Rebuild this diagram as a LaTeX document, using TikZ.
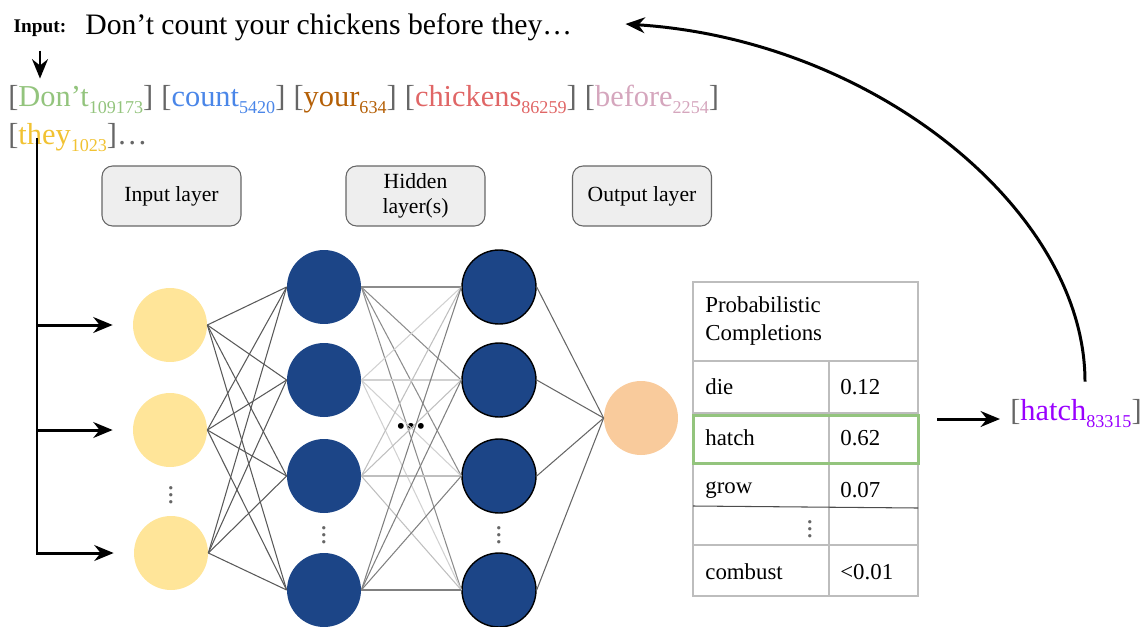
\documentclass[tikz,border=0pt]{standalone}
\usepackage{fontspec}
\setmainfont{Liberation Serif}
\usetikzlibrary{arrows.meta, positioning, calc}
\definecolor{tokgreen}{HTML}{93C47D}
\definecolor{tokblue}{HTML}{4A86E8}
\definecolor{tokbrown}{HTML}{B45F06}
\definecolor{tokred}{HTML}{E06666}
\definecolor{tokpink}{HTML}{D5A6BD}
\definecolor{tokyellow}{HTML}{F1C232}
\definecolor{tokpurple}{HTML}{9900FF}
\definecolor{brackgray}{HTML}{666666}
\definecolor{inyellow}{HTML}{FFE599}
\definecolor{hidblue}{HTML}{1C4587}
\definecolor{outpeach}{HTML}{F9CB9C}
\definecolor{boxfill}{HTML}{EEEEEE}
\definecolor{boxline}{HTML}{666666}
\definecolor{tabline}{HTML}{BDBDBD}
\definecolor{pickgreen}{HTML}{93C47D}
\newcommand{\tokn}[3]{{\color{brackgray}[}{\color{#1}#2\raisebox{-4pt}{\fontsize{10.3}{12}\selectfont #3}}{\color{brackgray}]}}

\begin{document}
\begin{tikzpicture}[
    x=0.02cm, y=-0.02cm,
    >={Stealth[length=11pt, width=9pt]},
    flow/.style={line width=1.7pt, black},
    token/.style={inner sep=0pt, font=\fontsize{17.3}{20}\selectfont},
    layerbox/.style={draw=boxline, fill=boxfill, rounded corners=6pt, line width=0.6pt, minimum width=2.78cm,
                     minimum height=1.2cm, align=center, font=\fontsize{12.3}{14.5}\selectfont},
    neuron/.style={circle, fill=#1, minimum size=1.48cm, inner sep=0pt},
    edge/.style={draw=#1, line width=0.6pt},
    celltext/.style={anchor=west, inner sep=0pt, font=\fontsize{13}{15.9}\selectfont},
    vdotsnode/.style={text=brackgray, inner sep=0pt, font=\fontsize{16}{16}\selectfont},
]

% Frame
\useasboundingbox (0,0) rectangle (1143,626);

% =============================================
% INPUT SENTENCE AND TOKENS
% =============================================
\node[inner sep=0pt, font=\fontsize{11}{13}\selectfont\bfseries] (inlabel) at (40,28) {Input:};
\node[inner sep=0pt, anchor=west, font=\fontsize{16.9}{20}\selectfont] (sentence) at (85,27) {Don’t count your chickens before they…};

\node[token, anchor=base west] (tdont) at (8,106) {\tokn{tokgreen}{Don’t}{109173}};
\node[token, base right=0.15cm of tdont] (tcount) {\tokn{tokblue}{count}{5420}};
\node[token, base right=0.15cm of tcount] (tyour) {\tokn{tokbrown}{your}{634}};
\node[token, base right=0.15cm of tyour] (tchick) {\tokn{tokred}{chickens}{86259}};
\node[token, base right=0.15cm of tchick] (tbefore) {\tokn{tokpink}{before}{2254}};
\node[token, anchor=base west] (tthey) at (8,144) {\tokn{tokyellow}{they}{1023}{\color{brackgray}…}};

\draw[->, flow, shorten >=0.12cm] ([yshift=-0.28cm]inlabel.south) -- (inlabel.south |- tdont.north);

% =============================================
% LAYER LABELS
% =============================================
\node[layerbox] (lin) at (171.5,196) {Input layer};
\node[layerbox] (lhid) at (415.5,196) {Hidden\\layer(s)};
\node[layerbox] (lout) at (642,196) {Output layer};

% =============================================
% NETWORK
% =============================================
% input layer
\node[neuron=inyellow] (in1) at (170,325) {};
\node[neuron=inyellow] (in2) at (170,430) {};
\node[neuron=inyellow] (in3) at (171,553) {};
\node[vdotsnode] (indots) at (171,490) {$\vdots$};

% hidden layers
\node[neuron=hidblue] (ha1) at (324,287) {};
\node[neuron=hidblue] (ha2) at (324,380) {};
\node[neuron=hidblue] (ha3) at (324,476) {};
\node[neuron=hidblue] (ha4) at (324,590) {};
\node[vdotsnode] (hadots) at (324,530) {$\vdots$};

\node[neuron=hidblue, draw=black, line width=0.8pt] (hb1) at (499,287) {};
\node[neuron=hidblue, draw=black, line width=0.8pt] (hb2) at (499,380) {};
\node[neuron=hidblue, draw=black, line width=0.8pt] (hb3) at (499,476) {};
\node[neuron=hidblue, draw=black, line width=0.8pt] (hb4) at (499,590) {};
\node[vdotsnode] (hbdots) at (499,530) {$\vdots$};

\node[inner sep=0pt, font=\fontsize{14}{14}\selectfont] (hdots) at (411,429) {\textbullet\kern0.8pt\textbullet\kern0.8pt\textbullet};

% output layer
\node[neuron=outpeach] (out) at (641,418) {};

% connections
\foreach \i in {1,2,3}
  \foreach \j in {1,...,4}
    \draw[edge=black!65] (in\i.east) -- (ha\j.west);
\foreach \i/\c in {1/black!45, 2/black!18, 3/black!25, 4/black!50}
  \foreach \j in {1,...,4}
    \draw[edge=\c] (ha\i.east) -- (hb\j.west);
\foreach \j in {1,...,4}
  \draw[edge=black!60] (hb\j.east) -- (out.west);

% tokens into input layer
\coordinate (split) at (37,138);
\draw[->, flow, shorten >=0.4cm] (split) |- (in3.west);
\draw[->, flow, shorten >=0.4cm] (split) |- (in2.west);
\draw[->, flow, shorten >=0.4cm] (split) |- (in1.west);

% =============================================
% COMPLETIONS TABLE
% =============================================
\draw[tabline, line width=0.6pt] (693,282) rectangle (918,596);
\draw[tabline, line width=0.6pt] (693,361) -- (918,361);
\draw[tabline, line width=0.6pt] (829,361) -- (829,596);
\draw[tabline, line width=0.6pt] (693,413) -- (918,413);
\draw[tabline, line width=0.6pt] (693,545) -- (918,545);
\draw[black!70, line width=0.6pt] (693,506) -- (918,508);
\draw[pickgreen, line width=1.7pt] (693,415) rectangle (918,463);

\node[celltext, align=left] (thead) at (705,321) {Probabilistic\\Completions};
\node[celltext] (cdie) at (705,387) {die};
\node[celltext] (pdie) at (840,387) {0.12};
\node[celltext] (chatch) at (705,438) {hatch};
\node[celltext] (phatch) at (840,438) {0.62};
\node[celltext] (cgrow) at (705,490) {grow};
\node[celltext] (pgrow) at (840,490) {0.07};
\node[vdotsnode] (tabdots) at (810,524) {$\vdots$};
\node[celltext] (ccomb) at (705,572) {combust};
\node[celltext] (pcomb) at (840,572) {<0.01};

% =============================================
% PREDICTED TOKEN AND FEEDBACK
% =============================================
\node[token, anchor=base west] (hatch) at (1010,420) {\tokn{tokpurple}{hatch}{83315}};

\coordinate (pickout) at (937,419);
\draw[->, flow, shorten >=0.2cm] (pickout) -- (pickout -| hatch.west);

\draw[->, flow] ([xshift=0.18cm, yshift=0.34cm]hatch.north) .. controls +(0,-170) and +(250,16) .. ([xshift=1.06cm, yshift=0.06cm]sentence.east);

\end{tikzpicture}
\end{document}
